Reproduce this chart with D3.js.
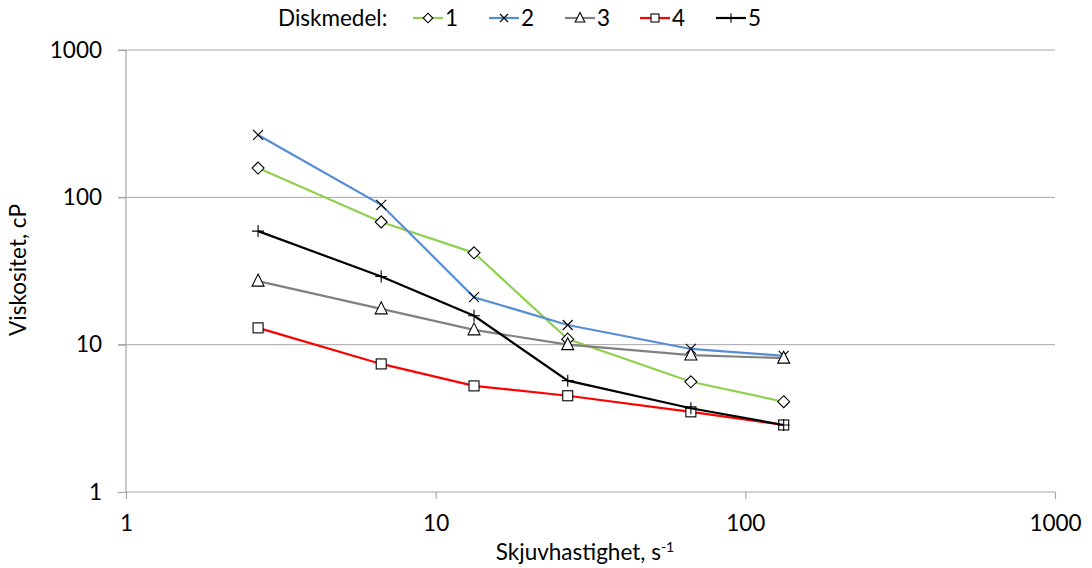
<!DOCTYPE html>
<html>
<head>
<meta charset="utf-8">
<script src="https://cdn.jsdelivr.net/npm/d3@7"></script>
<style>
  body { margin: 0; background: #fff; }
  text { font-family: Lato, "Open Sans", sans-serif; fill: #000; }
</style>
</head>
<body>
<svg id="chart" width="1092" height="568"></svg>
<script>
const shearRates = [2.67, 6.67, 13.3, 26.7, 66.7, 133];
const series1 = [158, 68, 42, 10.9, 5.6, 4.1];
const series2 = [265, 89, 21, 13.6, 9.35, 8.4];
const series3 = [27, 17.5, 12.6, 10, 8.5, 8.1];
const series4 = [13, 7.4, 5.25, 4.5, 3.5, 2.85];
const series5 = [59, 29, 15.7, 5.7, 3.7, 2.85];
const seriesNames = ["1", "2", "3", "4", "5"];
const xTicks = [1, 10, 100, 1000];
const yTicks = [1, 10, 100, 1000];

const styles = [
  { color: "#8fd14f", marker: "diamond" },
  { color: "#558ed5", marker: "cross" },
  { color: "#808080", marker: "triangle" },
  { color: "#ff0000", marker: "square" },
  { color: "#000000", marker: "plus" }
];
const allSeries = [series1, series2, series3, series4, series5];
const fontSize = "22.5px";

const svg = d3.select("#chart");
const margin = { left: 126, right: 1055, top: 50, bottom: 492 };

const x = d3.scaleLog().domain([1, 1000]).range([margin.left, margin.right]);
const y = d3.scaleLog().domain([1, 1000]).range([margin.bottom, margin.top]);

// gridlines
svg.append("g")
  .selectAll("line")
  .data(yTicks.slice(1))
  .enter().append("line")
  .attr("x1", margin.left - 8).attr("x2", margin.right)
  .attr("y1", d => y(d)).attr("y2", d => y(d))
  .attr("stroke", "#a6a6a6").attr("stroke-width", 1);

// axes
const xAxis = d3.axisBottom(x).tickValues(xTicks).tickFormat(d3.format("d")).tickSize(7).tickPadding(16);
const yAxis = d3.axisLeft(y).tickValues(yTicks).tickFormat(d3.format("d")).tickSize(8).tickPadding(16);

const gx = svg.append("g").attr("transform", `translate(0,${margin.bottom})`).call(xAxis);
const gy = svg.append("g").attr("transform", `translate(${margin.left},0)`).call(yAxis);
[gx, gy].forEach(g => {
  g.select(".domain").attr("stroke", "#a6a6a6").attr("stroke-width", 1.2);
  g.selectAll(".tick line").attr("stroke", "#a6a6a6").attr("stroke-width", 1.2);
  g.selectAll(".tick text").style("font-size", fontSize).attr("fill", "#000");
});
gy.select(".domain").attr("d", `M0,${margin.bottom}V${margin.top}`);
gx.select(".domain").attr("d", `M${margin.left},0H${margin.right}`);

// markers
function drawMarker(g, type, cx, cy, k = 1) {
  const s = 6 * k;
  if (type === "diamond") {
    g.append("path").attr("d", `M${cx},${cy - s}L${cx + s},${cy}L${cx},${cy + s}L${cx - s},${cy}Z`)
      .attr("fill", "#fff").attr("stroke", "#000").attr("stroke-width", 1.1);
  } else if (type === "cross") {
    const c = 5 * k;
    g.append("path").attr("d", `M${cx - c},${cy - c}L${cx + c},${cy + c}M${cx - c},${cy + c}L${cx + c},${cy - c}`)
      .attr("stroke", "#000").attr("stroke-width", 1.1);
  } else if (type === "triangle") {
    g.append("path").attr("d", `M${cx},${cy - 7 * k}L${cx + 6 * k},${cy + 5 * k}L${cx - 6 * k},${cy + 5 * k}Z`)
      .attr("fill", "#fff").attr("stroke", "#000").attr("stroke-width", 1.1);
  } else if (type === "square") {
    const q = 5 * k;
    g.append("rect").attr("x", cx - q).attr("y", cy - q).attr("width", 2 * q).attr("height", 2 * q)
      .attr("fill", "#fff").attr("stroke", "#000").attr("stroke-width", 1.1);
  } else if (type === "plus") {
    g.append("path").attr("d", `M${cx - s},${cy}L${cx + s},${cy}M${cx},${cy - s}L${cx},${cy + s}`)
      .attr("stroke", "#000").attr("stroke-width", 1.1);
  }
}

const line = d3.line().x((d, i) => x(shearRates[i])).y(d => y(d));

allSeries.forEach((vals, si) => {
  const g = svg.append("g");
  g.append("path").datum(vals).attr("d", line)
    .attr("fill", "none").attr("stroke", styles[si].color).attr("stroke-width", 2.2);
  vals.forEach((v, i) => drawMarker(g, styles[si].marker, x(shearRates[i]), y(v)));
});

// axis titles
svg.append("text").attr("x", 585).attr("y", 560).attr("text-anchor", "middle")
  .style("font-size", fontSize)
  .html('Skjuvhastighet, s<tspan dy="-8" style="font-size:14px">-1</tspan>');
svg.append("text").attr("transform", "translate(26,270) rotate(-90)").attr("text-anchor", "middle")
  .style("font-size", fontSize).text("Viskositet, cP");

// legend
const legend = svg.append("g").attr("transform", "translate(0,18)");
legend.append("text").attr("x", 278).attr("y", 8).style("font-size", fontSize).text("Diskmedel:");
const legendX = [428, 504, 580, 655, 731];
seriesNames.forEach((name, i) => {
  const lx = legendX[i];
  legend.append("line").attr("x1", lx - 15).attr("x2", lx + 15).attr("y1", 0).attr("y2", 0)
    .attr("stroke", styles[i].color).attr("stroke-width", 2.2);
  drawMarker(legend, styles[i].marker, lx, 0, 0.8);
  legend.append("text").attr("x", lx + 17).attr("y", 8).style("font-size", fontSize).text(name);
});
</script>
</body>
</html>
